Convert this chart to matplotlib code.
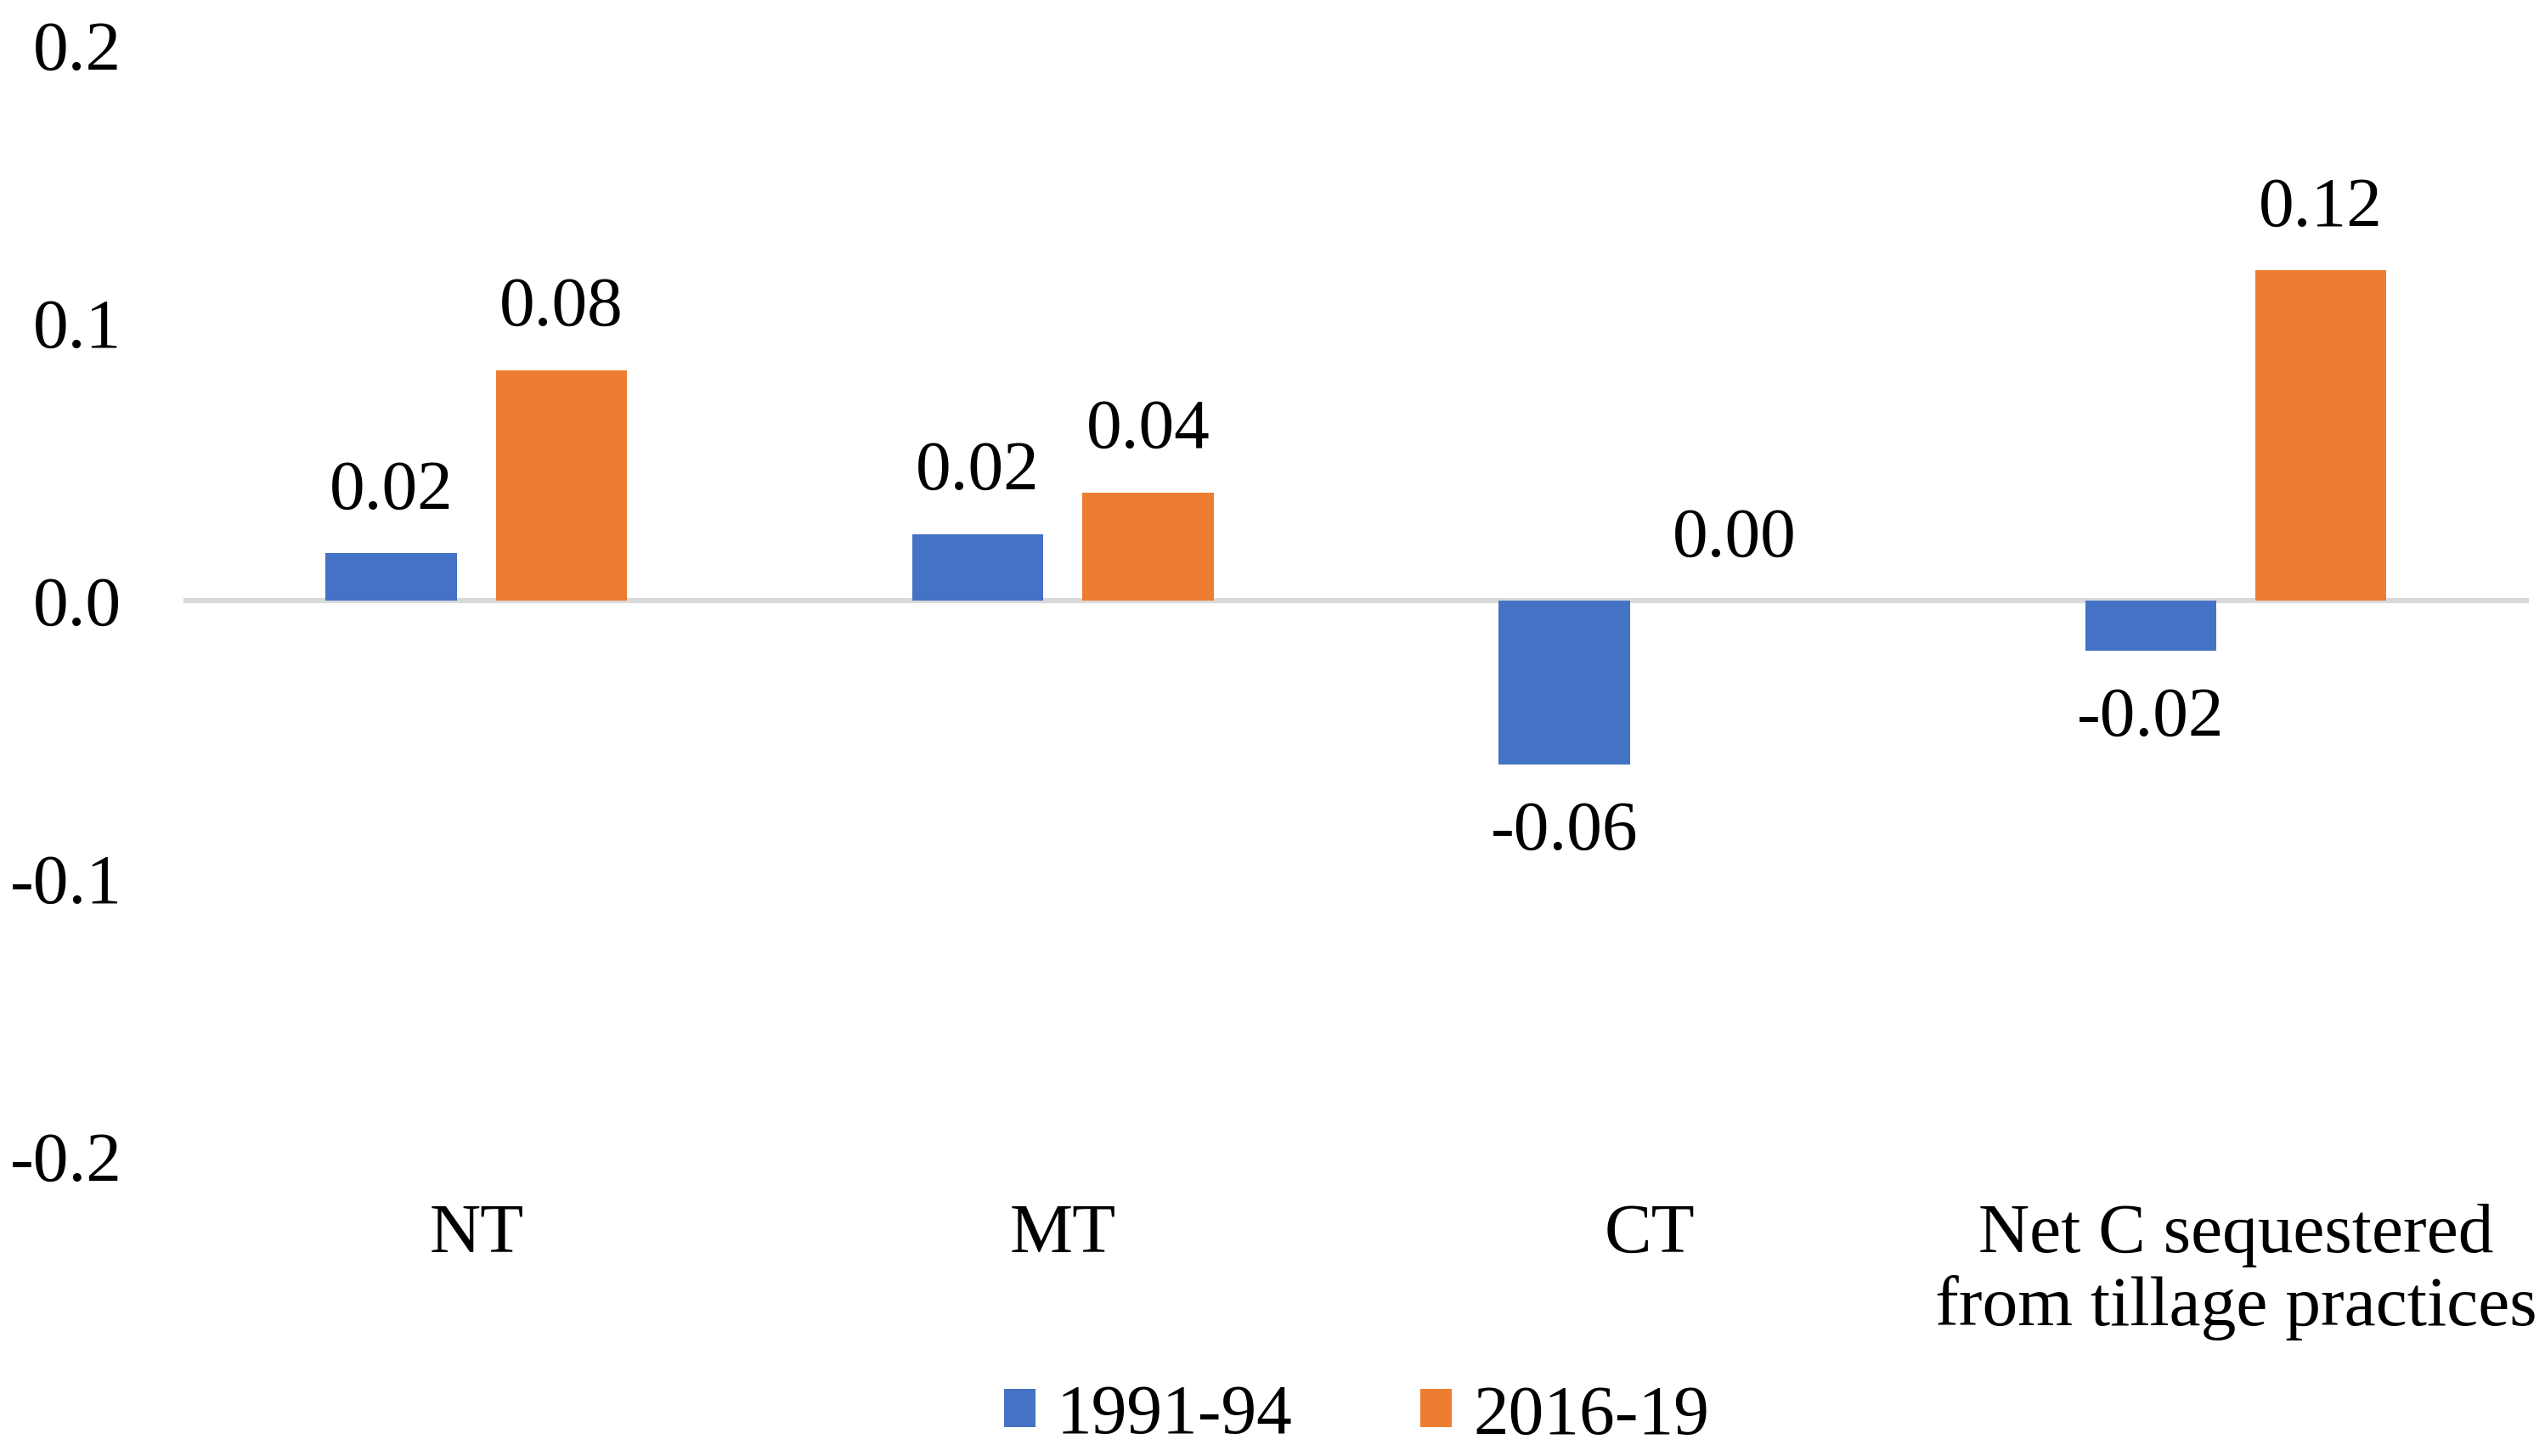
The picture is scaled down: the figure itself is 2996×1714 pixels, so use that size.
import matplotlib.pyplot as plt
import numpy as np

# data
categories = ["NT", "MT", "CT", "Net C sequestered\nfrom tillage practices"]
series_names = ["1991-94", "2016-19"]
vals_1991 = [0.017, 0.024, -0.059, -0.018]
vals_2016 = [0.083, 0.039, 0.0, 0.119]
yticks = [-0.2, -0.1, 0.0, 0.1, 0.2]

blue = "#4472C4"
orange = "#ED7D31"

plt.rcParams['font.family'] = ['Liberation Serif', 'DejaVu Serif']

fig = plt.figure(figsize=(14.98, 8.57), dpi=200)
ax = fig.add_axes([0.072, 0.206, 0.9217, 0.763])

x = np.arange(len(categories))
bar_width = 0.224
offset = 0.145
bars1 = ax.bar(x - offset, vals_1991, width=bar_width, color=blue, label=series_names[0], zorder=2)
bars2 = ax.bar(x + offset, vals_2016, width=bar_width, color=orange, label=series_names[1], zorder=2)

# data labels
for bars in (bars1, bars2):
    for b in bars:
        v = b.get_height()
        xc = b.get_x() + b.get_width() / 2
        dy = 26 if v >= 0 else -29
        ax.annotate("%.2f" % v, (xc, v), xytext=(0, dy), textcoords="offset points",
                    ha="center", va="center", fontsize=30)

ax.axhline(0, color="#D9D9D9", linewidth=2.2, zorder=1)

ax.set_xlim(-0.5, 3.5)
ax.set_ylim(-0.2, 0.2)
ax.set_yticks(yticks)
ax.set_yticklabels(["%.1f" % t for t in yticks])
ax.set_xticks(x)
ax.set_xticklabels(categories, linespacing=1.15)

for s in ax.spines.values():
    s.set_visible(False)
ax.tick_params(axis="both", length=0, labelsize=30)
ax.tick_params(axis="y", pad=26)
ax.tick_params(axis="x", pad=20)

fig.legend(loc="center", bbox_to_anchor=(0.533, 0.027), ncol=2, frameon=False,
           fontsize=30, handlelength=0.45, handleheight=0.45, handletextpad=0.3,
           columnspacing=1.8)

plt.savefig("out.png", dpi=200)
